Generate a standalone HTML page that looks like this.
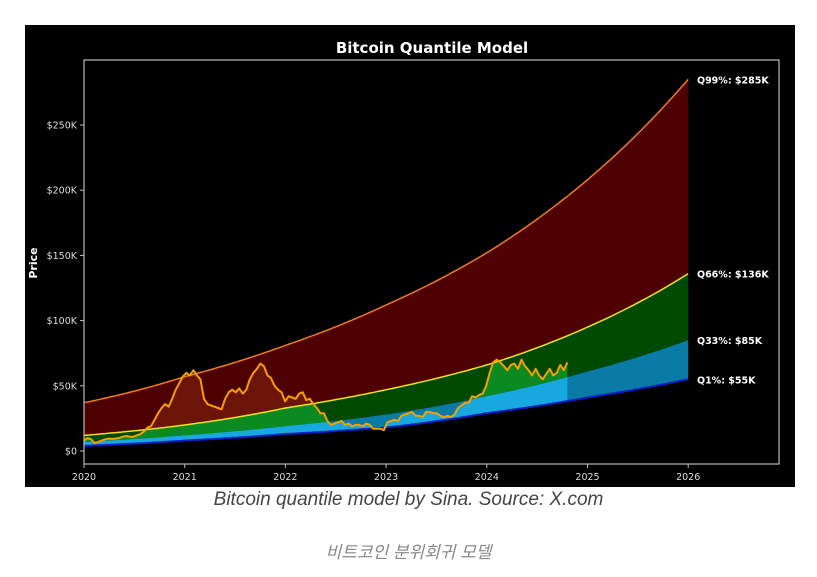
<!DOCTYPE html>
<html><head><meta charset="utf-8"><style>
body{margin:0;background:#fff;width:817px;height:577px;overflow:hidden;position:relative;font-family:"Liberation Sans","Noto Sans CJK KR",sans-serif}
#chart{position:absolute;left:25px;top:25px;font-family:"DejaVu Sans",sans-serif}
.cap{position:absolute;width:817px;text-align:center;font-style:italic}
</style></head><body>
<svg id="chart" width="770" height="462" viewBox="25 25 770 462" xmlns="http://www.w3.org/2000/svg">
<rect x="25" y="25" width="770" height="462" fill="#000"/>
<defs><clipPath id="plotClip"><rect x="84" y="60" width="695" height="404"/></clipPath><clipPath id="histClip"><path id="histPath"/></clipPath></defs>
<g id="bands" clip-path="url(#plotClip)"></g>
<g id="axes"></g>
<text x="432" y="53" fill="#fff" font-size="15" font-weight="bold" text-anchor="middle">Bitcoin Quantile Model</text>
<text transform="translate(37,263) rotate(-90)" fill="#fff" font-size="11" font-weight="bold" text-anchor="middle">Price</text>
</svg>
<div class="cap" style="top:489px;font-size:19px;color:#444">Bitcoin quantile model by Sina. Source: X.com</div>
<div class="cap" style="top:538px;font-size:17px;color:#888">비트코인 분위회귀 모델</div>
<script>
const bandYears=[2020,2021,2022,2023,2024,2025,2026];
const q99=[37,57,81,112,152,208,285];
const q66=[12,20,33,47,66,95,136];
const q33=[7,12,19,28,42,61,85];
const q1=[4,8,13,18,29,41,55];
const bandLabels=["Q99%: $285K","Q66%: $136K","Q33%: $85K","Q1%: $55K"];
const priceStart=2020.0;
const price=[8,10,9,6,7,8,9,9.5,9.3,9.5,10,11,11.5,11,11,12,13,15,18,19,24,29,33,36,
 34,40,47,52,57,60,58,62,58,55,40,36,35,34,33,32,40,45,47,45,48,44,47,55,60,63,67,65,58,56,50,47,
 45,38,42,41,40,44,45,39,40,36,33,29,29,23,20,21,22,23,20,21,19,20,20,19,21,20,17,17,
 17,16,22,23,24,23,27,28,29,30,27,27,26,30,30,29,29,27,26,27,26,28,33,35,37,37,42,41,
 43,44,50,60,68,70,68,65,62,66,67,63,70,65,62,58,63,58,55,59,63,58,60,66,62,68];
const yTicks=[0,50,100,150,200,250];
const yTickLabels=["$0","$50K","$100K","$150K","$200K","$250K"];
const xTicks=[2020,2021,2022,2023,2024,2025,2026];
const NS="http://www.w3.org/2000/svg";
const X=y=>84+(y-2020)*100.7;
const Y=v=>451-v*1.304;
function interp(arr,t){let i=Math.min(Math.floor(t-2020),5);if(i<0)i=0;const f=t-bandYears[i];return Math.exp(Math.log(arr[i])*(1-f)+Math.log(arr[i+1])*f);}
function curve(arr,t0,t1){const p=[];for(let t=t0;t<=t1+1e-9;t+=0.02)p.push([X(t),Y(interp(arr,t))]);return p;}
function band(up,lo){const a=curve(up,2020,2026),b=curve(lo,2020,2026).reverse();return "M"+a.concat(b).map(p=>p[0].toFixed(1)+","+p[1].toFixed(1)).join("L")+"Z";}
function mk(tag,attrs,parent){const e=document.createElementNS(NS,tag);for(const k in attrs)e.setAttribute(k,attrs[k]);parent.appendChild(e);return e;}
const g=document.getElementById("bands");
let e;
e=mk("path",{d:band(q99,q66),fill:"#4e0000"},g);


e=mk("path",{d:band(q66,q33),fill:"#004a00"},g);


e=mk("path",{d:band(q33,q1),fill:"#0a7aa6"},g);


const step=(2024.8-priceStart)/(price.length-1);
const pp=price.map((v,i)=>[X(priceStart+i*step),Y(v)]);
const pStr=pp.map(p=>p[0].toFixed(1)+","+p[1].toFixed(1)).join("L");
const lastX=pp[pp.length-1][0];
document.getElementById("histPath").setAttribute("d","M"+pStr+"L"+lastX+",470L"+X(2020)+",470Z");
const hg=mk("g",{"clip-path":"url(#histClip)"},g);
e=mk("path",{d:band(q99,q66),fill:"#6c1408"},hg);


e=mk("path",{d:band(q66,q33),fill:"#0b8a22"},hg);


e=mk("path",{d:band(q33,q1),fill:"#18a8e0"},hg);


function line(arr,col,w){const p=curve(arr,2020,2026);return mk("path",{d:"M"+p.map(q=>q[0].toFixed(1)+","+q[1].toFixed(1)).join("L"),fill:"none",stroke:col,"stroke-width":w},g);}
e=line(q99,"#f07a20",1.5);


e=line(q66,"#f0e020",1.5);


e=line(q1,"#1020c0",2);


e=mk("path",{d:"M"+pStr,fill:"none",stroke:"#f5a000","stroke-width":2,"stroke-linejoin":"round"},g);


const ax=document.getElementById("axes");
e=mk("rect",{x:84,y:60,width:695,height:404,fill:"none",stroke:"#bbb","stroke-width":1.2},ax);


yTicks.forEach((v,i)=>{mk("line",{x1:80,x2:84,y1:Y(v),y2:Y(v),stroke:"#bbb"},ax);
 const t=mk("text",{x:77,y:Y(v)+3.5,fill:"#ddd","font-size":9.5,"text-anchor":"end"},ax);t.textContent=yTickLabels[i];
 
 });
xTicks.forEach(v=>{mk("line",{x1:X(v),x2:X(v),y1:464,y2:468,stroke:"#bbb"},ax);
 const t=mk("text",{x:X(v),y:480,fill:"#ddd","font-size":9.5,"text-anchor":"middle"},ax);t.textContent=v;
 
 });
[q99,q66,q33,q1].forEach((arr,i)=>{const t=mk("text",{x:697,y:Y(arr[6])+4,fill:"#fff","font-size":9.5,"font-weight":"bold"},ax);t.textContent=bandLabels[i];
 
 });
</script>
</body></html>
